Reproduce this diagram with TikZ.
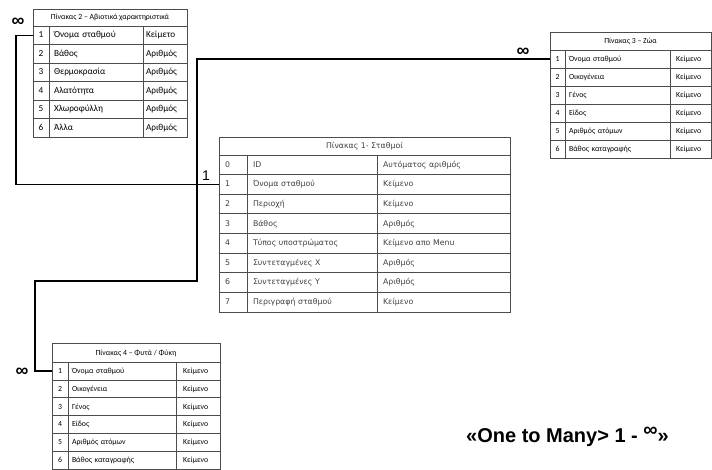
\documentclass[tikz,border=0pt]{standalone}
\usepackage{fontspec}
\setmainfont{Carlito}
\newfontfamily\dejavu{DejaVu Sans}
\newfontfamily\arial{Liberation Sans}
\usetikzlibrary{calc}

\begin{document}
\begin{tikzpicture}[x=1pt, y=-1pt,
  cell/.style={draw=black!70, line width=0.6pt, anchor=north west,
    inner xsep=4pt, inner ysep=0pt, outer sep=0pt,
    text height=0.72em, text depth=0.22em},
  lcell/.style={cell, align=left, text width=#1},
  hdr/.style={cell, align=center},
  link/.style={line width=1.4pt, black},
  apeiro/.style={font=\arial\bfseries\fontsize{18}{18}\selectfont, inner sep=0pt},
  mikro/.style={font=\fontsize{7.8}{8}\selectfont},
  megalo/.style={font=\fontsize{9.2}{10}\selectfont},
  stathmoi/.style={font=\dejavu\fontsize{7.8}{9}\selectfont, text=black!75}
]
\useasboundingbox (0,0) rectangle (712,470);

% Pinakas 2
\node[hdr, mikro, minimum width=154pt, minimum height=17pt] (t2h) at (33,9) {Πίνακας 2 – Αβιοτικά χαρακτηριστικά};
\foreach \n/\onoma/\eidos in {1/Όνομα σταθμού/Κείμετο, 2/Βάθος/Αριθμός, 3/Θερμοκρασία/Αριθμός,
    4/Αλατότητα/Αριθμός, 5/Χλωροφύλλη/Αριθμός, 6/Άλλα/Αριθμός} {
  \pgfmathsetmacro\y{26+18.5*(\n-1)}
  \node[cell, megalo, minimum width=16pt, minimum height=18.5pt] (t2r\n) at (33,\y) {\n};
  \node[lcell=84pt, megalo, inner xsep=5pt, minimum height=18.5pt] (t2n\n) at (49,\y) {\onoma};
  \node[lcell=38pt, megalo, inner xsep=3pt, minimum height=18.5pt] (t2e\n) at (143,\y) {\eidos};
}

% Pinakas 3
\node[hdr, mikro, minimum width=161pt, minimum height=18pt] (t3h) at (550,32) {Πίνακας 3 – Ζώα};
\foreach \n/\onoma in {1/Όνομα σταθμού, 2/Οικογένεια, 3/Γένος, 4/Είδος, 5/Αριθμός ατόμων, 6/Βάθος καταγραφής} {
  \pgfmathsetmacro\y{50+18*(\n-1)}
  \node[cell, mikro, minimum width=15pt, minimum height=18pt] (t3r\n) at (550,\y) {\n};
  \node[lcell=97pt, mikro, minimum height=18pt] (t3n\n) at (565,\y) {\onoma};
  \node[lcell=29pt, mikro, inner xsep=6pt, minimum height=18pt] (t3e\n) at (670,\y) {Κείμενο};
}

% Pinakas 1
\node[hdr, stathmoi, minimum width=291pt, minimum height=18pt] (t1h) at (219,137) {Πίνακας 1- Σταθμοί};
\foreach \n/\onoma/\eidos in {0/ID/Αυτόματος αριθμός, 1/Όνομα σταθμού/Κείμενο, 2/Περιοχή/Κείμενο,
    3/Βάθος/Αριθμός, 4/Τύπος υποστρώματος/Κείμενο απο Menu, 5/Συντεταγμένες X/Αριθμός,
    6/Συντεταγμένες Y/Αριθμός, 7/Περιγραφή σταθμού/Κείμενο} {
  \pgfmathsetmacro\y{155+19.6*\n}
  \node[lcell=16pt, stathmoi, inner xsep=6pt, minimum height=19.6pt] (t1r\n) at (219,\y) {\n};
  \node[lcell=118pt, stathmoi, inner xsep=6pt, minimum height=19.6pt] (t1n\n) at (247,\y) {\onoma};
  \node[lcell=121pt, stathmoi, inner xsep=6pt, minimum height=19.6pt] (t1e\n) at (377,\y) {\eidos};
}

% Pinakas 4
\node[hdr, mikro, minimum width=168pt, minimum height=19pt] (t4h) at (52,343) {Πίνακας 4 – Φυτά / Φύκη};
\foreach \n/\onoma in {1/Όνομα σταθμού, 2/Οικογένεια, 3/Γένος, 4/Είδος, 5/Αριθμός ατόμων, 6/Βάθος καταγραφής} {
  \pgfmathsetmacro\y{362+17.8*(\n-1)}
  \node[cell, mikro, minimum width=16pt, minimum height=17.8pt] (t4r\n) at (52,\y) {\n};
  \node[lcell=100pt, mikro, minimum height=17.8pt] (t4n\n) at (68,\y) {\onoma};
  \node[lcell=30pt, mikro, inner xsep=7pt, minimum height=17.8pt] (t4e\n) at (176,\y) {Κείμενο};
}

% syndeseis
\coordinate (jA) at (16,100);
\coordinate (jB) at (197,281);
\coordinate (jC) at (35,281);
\draw[link] (t2r1.west) -| (jA) |- (t1r1.west);
\draw[link] (t3r1.west) -| (jB) -- (jC) |- (t4r1.west);

\node[apeiro] (inf2) at (18,22) {∞};
\node[apeiro] (inf3) at (523,52) {∞};
\node[apeiro] (inf4) at (22,372) {∞};
\node[font=\arial\fontsize{14}{14}\selectfont, inner sep=0pt] (ena) at (206,176) {1};

\node[anchor=base west, inner sep=0pt, font=\arial\bfseries\fontsize{20}{22}\selectfont] (titlos)
  at (466,442) {«One to Many> 1 - \raisebox{6pt}{∞}»};
\end{tikzpicture}
\end{document}
